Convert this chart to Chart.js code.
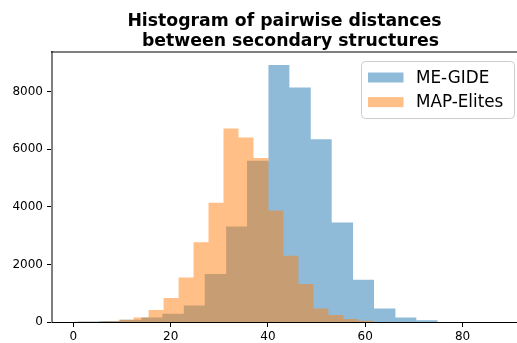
<!DOCTYPE html>
<html><head><meta charset="utf-8">
<script src="https://cdn.jsdelivr.net/npm/chart.js@4.4.1/dist/chart.umd.min.js"></script>
<style>html,body{margin:0;padding:0;background:#fff;overflow:hidden;}</style>
</head><body>
<canvas id="c" width="517" height="343" style="display:block;width:517px;height:343px"></canvas>
<script>
const titleLines = ["Histogram of pairwise distances", "  between secondary structures"];
const seriesNames = ["ME-GIDE", "MAP-Elites"];
const meGideEdges = [0.9, 5.3, 9.6, 14.0, 18.3, 22.7, 27.0, 31.4, 35.7, 40.1, 44.4, 48.8, 53.1, 57.5, 61.8, 66.2, 70.5, 74.9];
const meGideCounts = [15, 35, 80, 160, 285, 570, 1670, 3320, 5600, 8930, 8150, 6350, 3460, 1470, 465, 160, 65];
const mapElitesEdges = [0.06, 3.14, 6.22, 9.30, 12.38, 15.46, 18.54, 21.62, 24.70, 27.78, 30.86, 33.94, 37.02, 40.10, 43.18, 46.26, 49.34, 52.42, 55.50, 58.58, 61.66];
const mapElitesCounts = [5, 10, 30, 80, 160, 420, 835, 1550, 2770, 4140, 6720, 6410, 5700, 3870, 2300, 1320, 470, 240, 104, 42];
const xTicks = [0, 20, 40, 60, 80];
const yTicks = [0, 2000, 4000, 6000, 8000];

function stepPoints(edges, counts) {
  const pts = counts.map((c, i) => ({x: edges[i], y: c}));
  pts.push({x: edges[edges.length - 1], y: counts[counts.length - 1]});
  return pts;
}

const FONT = 'DejaVu Sans';

const decor = {
  id: 'decor',
  afterDraw(chart) {
    const ctx = chart.ctx, a = chart.chartArea;
    ctx.save();
    // top spine
    ctx.strokeStyle = 'rgba(0,0,0,0.5)';
    ctx.lineWidth = 2;
    ctx.beginPath(); ctx.moveTo(a.left - 1, a.top); ctx.lineTo(a.right, a.top); ctx.stroke();
    // legend frame
    const x = 361.5, y = 61.5, w = 153, h = 57, r = 4;
    ctx.beginPath();
    ctx.moveTo(x + r, y); ctx.lineTo(x + w - r, y); ctx.arcTo(x + w, y, x + w, y + r, r);
    ctx.lineTo(x + w, y + h - r); ctx.arcTo(x + w, y + h, x + w - r, y + h, r);
    ctx.lineTo(x + r, y + h); ctx.arcTo(x, y + h, x, y + h - r, r);
    ctx.lineTo(x, y + r); ctx.arcTo(x, y, x + r, y, r); ctx.closePath();
    ctx.fillStyle = 'rgba(255,255,255,0.8)'; ctx.fill();
    ctx.strokeStyle = '#cccccc'; ctx.lineWidth = 1; ctx.stroke();
    chart.data.datasets.forEach((ds, i) => {
      ctx.fillStyle = ds.backgroundColor;
      ctx.fillRect(368, 72.5 + i * 24.6, 35.5, 10);
      ctx.fillStyle = '#000';
      ctx.font = '16.8px "' + FONT + '"';
      ctx.textBaseline = 'alphabetic';
      ctx.textAlign = 'left';
      ctx.fillText(ds.label, 416, 82.5 + i * 24.8);
    });
    ctx.restore();
  }
};

new Chart(document.getElementById('c'), {
  type: 'line',
  data: {
    datasets: [
      {label: seriesNames[0], data: stepPoints(meGideEdges, meGideCounts), stepped: 'before', fill: 'origin',
       backgroundColor: 'rgba(31,119,180,0.5)', borderColor: 'rgba(0,0,0,0)', borderWidth: 0, pointRadius: 0, order: 2},
      {label: seriesNames[1], data: stepPoints(mapElitesEdges, mapElitesCounts), stepped: 'before', fill: 'origin',
       backgroundColor: 'rgba(255,127,14,0.5)', borderColor: 'rgba(0,0,0,0)', borderWidth: 0, pointRadius: 0, order: 1}
    ]
  },
  options: {
    responsive: false,
    animation: false,
    devicePixelRatio: 1,
    layout: {padding: {left: 0, right: 0, top: 0, bottom: 0}},
    plugins: {
      legend: {display: false},
      tooltip: {enabled: false},
      title: {
        display: true, text: titleLines, fullSize: false, color: '#000',
        font: {family: FONT, size: 17.3, weight: 'bold', lineHeight: '20.5px'},
        padding: {top: 11, bottom: 0}
      }
    },
    scales: {
      x: {
        type: 'linear', min: -4.4, max: 91.2,
        afterBuildTicks: (s) => { s.ticks = xTicks.map(v => ({value: v})); },
        afterFit: (s) => { s.height = 21; },
        grid: {drawOnChartArea: false, drawTicks: true, tickLength: 5, color: '#000', lineWidth: 1},
        border: {display: true, color: '#000', width: 1},
        ticks: {color: '#000', font: {family: FONT, size: 12}, padding: 3, maxRotation: 0, autoSkip: false,
                callback: (v) => String(v)}
      },
      y: {
        type: 'linear', min: 0, max: 9380,
        afterBuildTicks: (s) => { s.ticks = yTicks.map(v => ({value: v})); },
        afterFit: (s) => { s.width = 52; },
        grid: {drawOnChartArea: false, drawTicks: true, tickLength: 5, color: '#000', lineWidth: 1},
        border: {display: true, color: 'rgba(0,0,0,0.5)', width: 2},
        ticks: {color: '#000', font: {family: FONT, size: 12}, padding: 4, callback: (v) => String(v)}
      }
    }
  },
  plugins: [decor]
});
</script>
</body></html>
